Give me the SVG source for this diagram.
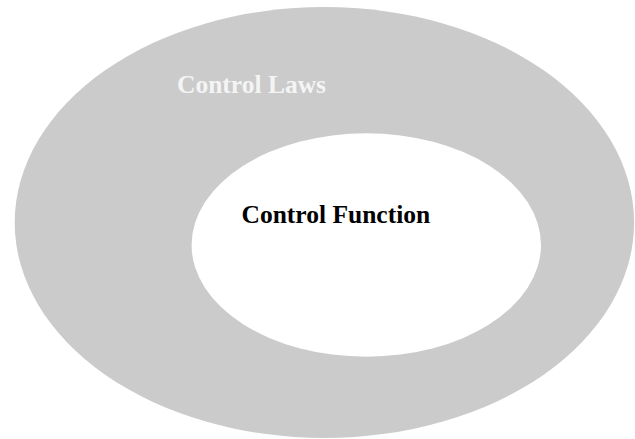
<svg xmlns="http://www.w3.org/2000/svg" width="635" height="439" viewBox="0 0 635 439">
<style>
.lbl{font-family:"Liberation Serif","Times New Roman",serif;font-weight:bold;font-size:25.5px}
</style>
<rect width="635" height="439" fill="#ffffff"/>
<g id="control-laws">
<ellipse cx="324.4" cy="222.5" rx="309.7" ry="215.5" fill="#cbcbcb"/>
<text class="lbl" x="177" y="92.7" fill="#f4f4f4">Control Laws</text>
</g>
<g id="control-function">
<ellipse cx="366.3" cy="245" rx="174.7" ry="111.7" fill="#ffffff"/>
<text class="lbl" x="241.5" y="222.7" fill="#000000">Control Function</text>
</g>
<g id="connectors"/>
</svg>
